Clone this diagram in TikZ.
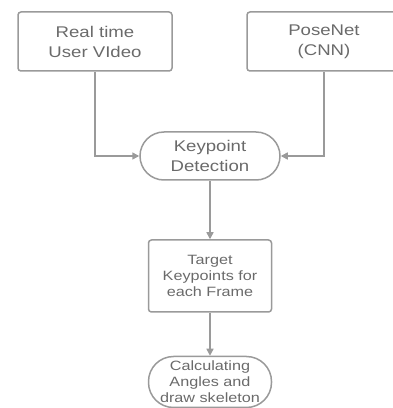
\documentclass[tikz,border=0pt]{standalone}
\usepackage{fontspec}
\setmainfont{Liberation Sans}[FakeStretch=1.2]
\usetikzlibrary{arrows.meta}
\definecolor{linegray}{HTML}{9A9A9A}
\definecolor{textgray}{HTML}{6A6A6A}
\begin{document}
\begin{tikzpicture}[x=1pt,y=1pt,
    box/.style = {draw=linegray, line width=1.5pt, rounded corners=3pt, text=textgray, align=center, inner sep=0pt},
    bigtext/.style = {font=\fontsize{15.5}{20}\selectfont},
    smalltext/.style = {font=\fontsize{13.5}{16}\selectfont},
    arr/.style = {draw=linegray, line width=1.5pt, -{Triangle[length=7pt,width=7pt]}}]
    \useasboundingbox (0,0) rectangle (392,408);
    \node[box, bigtext, minimum width=154, minimum height=59] (video) at (95,366.5) {Real time\\User VIdeo};
    \node[box, bigtext, minimum width=154, minimum height=59] (posenet) at (324,366.5) {PoseNet\\(CNN)};
    \node[box, bigtext, minimum width=140, minimum height=48, rounded corners=24pt] (detect) at (210,252) {Keypoint\\Detection};
    \node[box, smalltext, minimum width=123, minimum height=72] (target) at (210,132) {Target\\Keypoints for\\each Frame};
    \node[box, smalltext, minimum width=123, minimum height=51, rounded corners=25pt] (calc) at (210,26) {Calculating\\Angles and\\draw skeleton};
    \draw[arr] (video.south) |- (detect.west);
    \draw[arr] (posenet.south) |- (detect.east);
    \draw[arr] (detect) -- (target);
    \draw[arr] (target) -- (calc);
\end{tikzpicture}
\end{document}
